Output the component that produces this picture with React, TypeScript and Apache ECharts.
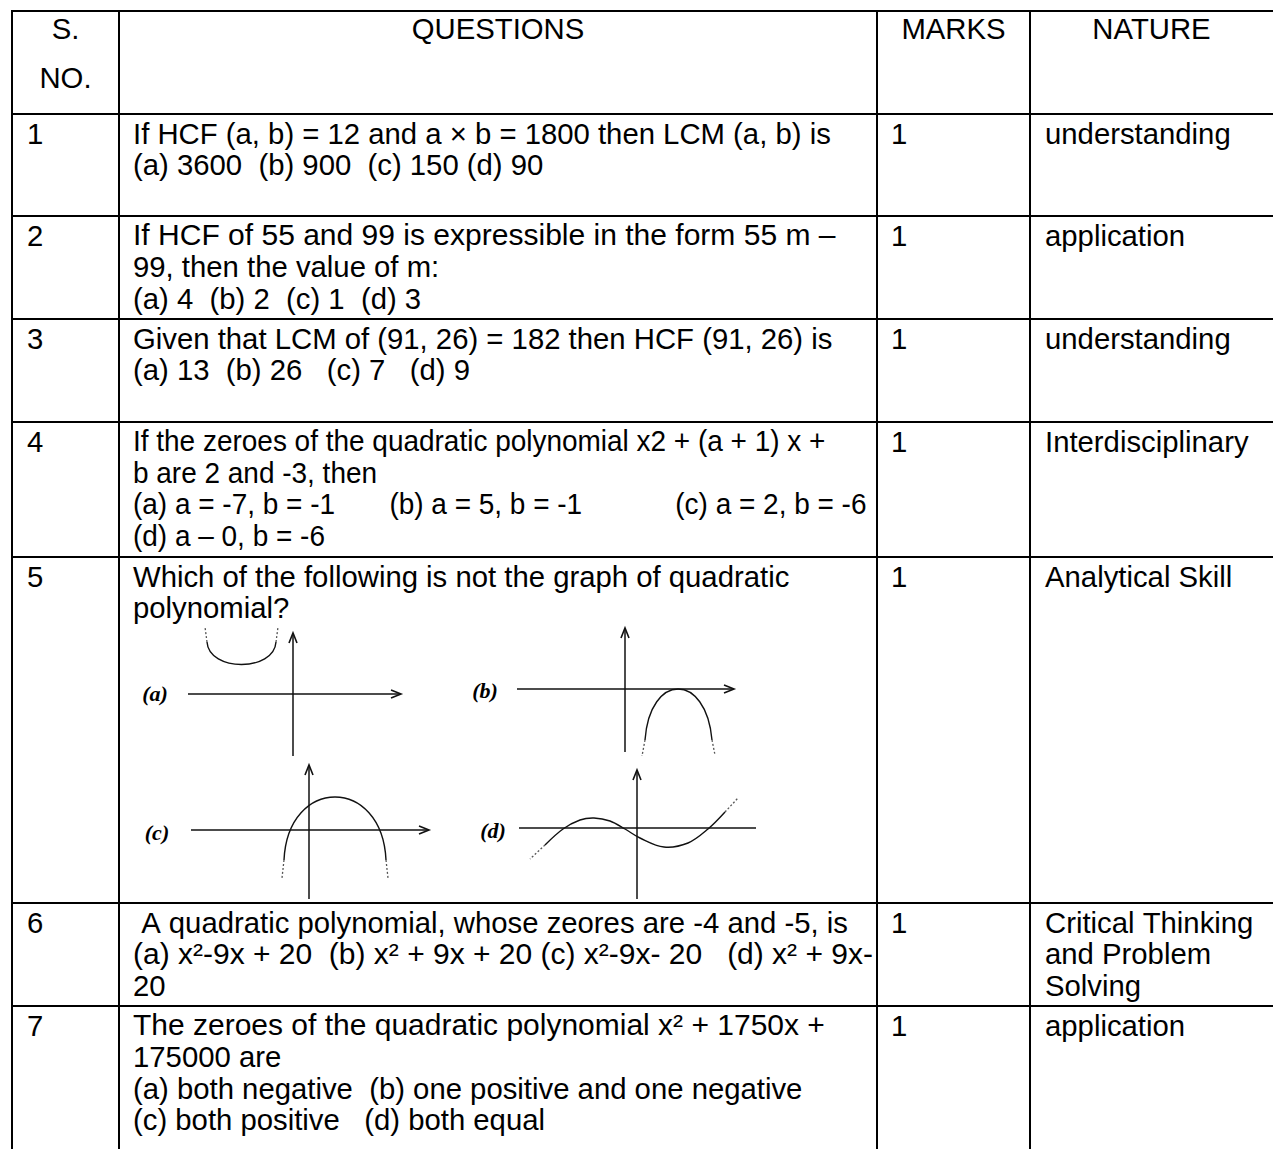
import React, { useEffect, useRef } from "react";
import * as echarts from "echarts";

const W = 1273;
const H = 1149;

// ---- table content ----
const headers = ["QUESTIONS", "MARKS", "NATURE"];
const serialHeader = ["S.", "NO."];
const serials = ["1", "2", "3", "4", "5", "6", "7"];
const questions: string[][] = [
  ["If HCF (a, b) = 12 and a \u00d7 b = 1800 then LCM (a, b) is", "(a) 3600  (b) 900  (c) 150 (d) 90"],
  ["If HCF of 55 and 99 is expressible in the form 55 m \u2013", "99, then the value of m:", "(a) 4  (b) 2  (c) 1  (d) 3"],
  ["Given that LCM of (91, 26) = 182 then HCF (91, 26) is", "(a) 13  (b) 26   (c) 7   (d) 9"],
  [
    "If the zeroes of the quadratic polynomial x2 + (a + 1) x +",
    "b are 2 and -3, then",
    "(a) a = -7, b = -1       (b) a = 5, b = -1            (c) a = 2, b = -6",
    "(d) a \u2013 0, b = -6",
  ],
  ["Which of the following is not the graph of quadratic", "polynomial?"],
  [" A quadratic polynomial, whose zeores are -4 and -5, is", "(a) x\u00b2-9x + 20  (b) x\u00b2 + 9x + 20 (c) x\u00b2-9x- 20   (d) x\u00b2 + 9x-", "20"],
  [
    "The zeroes of the quadratic polynomial x\u00b2 + 1750x +",
    "175000 are",
    "(a) both negative  (b) one positive and one negative",
    "(c) both positive   (d) both equal",
  ],
];
const marks = ["1", "1", "1", "1", "1", "1", "1"];
const nature: string[][] = [
  ["understanding"],
  ["application"],
  ["understanding"],
  ["Interdisciplinary"],
  ["Analytical Skill"],
  ["Critical Thinking", "and Problem", "Solving"],
  ["application"],
];
const graphLabels = ["(a)", "(b)", "(c)", "(d)"];

// ---- layout ----
const colX = [12, 119, 877, 1030];
const rowY = [11, 114, 216, 319, 422, 557, 903, 1006];
const FONT = "Liberation Sans, Arial, sans-serif";
const FS = 29.3;
const LINE = 31.5;
// horizontal stretch per [row, line] for a closer fit of line widths
const stretch: Record<string, number> = { "1-0": 1.025, "3-0": 0.955, "3-1": 0.955, "3-2": 0.955, "3-3": 0.955, "5-1": 1.024, "6-0": 1.024 };

function buildGraphics() {
  const els: any[] = [];
  const txt = (text: string, x: number, y: number, align = "left", extra: any = {}) => {
    els.push({
      type: "text",
      x,
      y,
      silent: true,
      ...extra,
      style: {
        text: text.replace(/ /g, "\u00a0"),
        fill: "#000",
        fontSize: FS,
        fontFamily: FONT,
        align,
        verticalAlign: "middle",
        ...(extra.style || {}),
      },
    });
  };
  const ln = (x1: number, y1: number, x2: number, y2: number, lw = 2, stroke = "#000", dash?: number[]) => {
    els.push({
      type: "line",
      silent: true,
      shape: { x1, y1, x2, y2 },
      style: { stroke, lineWidth: lw, lineDash: dash },
    });
  };

  // grid lines
  colX.forEach((x) => ln(x, rowY[0] - 1, x, H + 2));
  rowY.forEach((y) => ln(colX[0] - 1, y, W + 2, y));

  // header
  txt(serialHeader[0], (colX[0] + colX[1]) / 2, 28, "center");
  txt(serialHeader[1], (colX[0] + colX[1]) / 2, 77, "center");
  txt(headers[0], (colX[1] + colX[2]) / 2, 28, "center");
  txt(headers[1], (colX[2] + colX[3]) / 2, 28, "center");
  txt(headers[2], (colX[3] + W) / 2, 28, "center");

  // body
  for (let r = 0; r < serials.length; r++) {
    const top = rowY[r + 1];
    const y0 = top + 19;
    txt(serials[r], colX[0] + 15, y0);
    questions[r].forEach((q, i) => {
      const s = stretch[r + "-" + i];
      const extra = s ? { scaleX: s } : {};
      txt(q, colX[1] + 14, y0 + i * LINE, "left", extra);
    });
    txt(marks[r], colX[2] + 14, y0);
    nature[r].forEach((n, i) => txt(n, colX[3] + 15, y0 + i * LINE));
  }

  // ---- row 5 sketches ----
  const S = "#111";
  const arrowR = (x: number, y: number) =>
    els.push({ type: "polyline", silent: true, shape: { points: [[x - 10, y - 4], [x, y], [x - 10, y + 4]] }, style: { stroke: S, lineWidth: 1.6, fill: "none" } });
  const arrowU = (x: number, y: number) =>
    els.push({ type: "polyline", silent: true, shape: { points: [[x - 4, y + 10], [x, y], [x + 4, y + 10]] }, style: { stroke: S, lineWidth: 1.6, fill: "none" } });
  const bez = (p: number[]) =>
    els.push({
      type: "bezierCurve",
      silent: true,
      shape: { x1: p[0], y1: p[1], cpx1: p[2], cpy1: p[3], cpx2: p[4], cpy2: p[5], x2: p[6], y2: p[7] },
      style: { stroke: S, lineWidth: 1.4, fill: "none" },
    });
  const dash = (x1: number, y1: number, x2: number, y2: number) => ln(x1, y1, x2, y2, 1.3, "#555", [2, 2]);
  const lab = (t: string, x: number, y: number) =>
    els.push({
      type: "text",
      x,
      y,
      silent: true,
      style: { text: t, fill: "#000", fontSize: 22, fontWeight: "bold", fontStyle: "italic", fontFamily: "Liberation Serif, serif", align: "center", verticalAlign: "middle" },
    });

  // (a)
  lab(graphLabels[0], 155, 693);
  ln(188, 694, 400, 694, 1.5, S);
  arrowR(401, 694);
  ln(293, 634, 293, 756, 1.5, S);
  arrowU(293, 633);
  bez([207, 642, 209, 672, 274, 672, 276, 642]);
  dash(207, 642, 205, 627);
  dash(276, 642, 278, 627);

  // (b)
  lab(graphLabels[1], 485, 690);
  ln(517, 689, 733, 689, 1.5, S);
  arrowR(734, 689);
  ln(625, 629, 625, 752, 1.5, S);
  arrowU(625, 628);
  bez([645, 740, 650, 672, 706, 672, 712, 740]);
  dash(645, 740, 642, 756);
  dash(712, 740, 715, 755);

  // (c)
  lab(graphLabels[2], 157, 832);
  ln(191, 830, 428, 830, 1.5, S);
  arrowR(429, 830);
  ln(309, 766, 309, 899, 1.5, S);
  arrowU(309, 765);
  bez([284, 860, 288, 776, 382, 776, 386, 860]);
  dash(284, 860, 282, 878);
  dash(386, 860, 388, 878);

  // (d)
  lab(graphLabels[3], 493, 830);
  ln(519, 828, 756, 828, 1.5, S);
  ln(637, 771, 637, 899, 1.5, S);
  arrowU(637, 770);
  els.push({
    type: "polyline",
    silent: true,
    shape: {
      points: [[545, 845], [563, 829], [580, 820], [594, 818], [610, 821], [625, 829], [640, 838], [664, 847], [688, 843], [708, 829], [725, 812]],
      smooth: 0.35,
    },
    style: { stroke: S, lineWidth: 1.4, fill: "none" },
  });
  dash(545, 845, 530, 859);
  dash(725, 812, 738, 798);

  return els;
}

export default function App() {
  const ref = useRef<HTMLDivElement>(null);
  useEffect(() => {
    document.body.style.margin = "0";
    const chart = echarts.init(ref.current!, null, { renderer: "svg" });
    chart.setOption({
      animation: false,
      backgroundColor: "#fff",
      graphic: { elements: buildGraphics() },
    });
    return () => chart.dispose();
  }, []);
  return <div ref={ref} style={{ width: W, height: H }} />;
}
